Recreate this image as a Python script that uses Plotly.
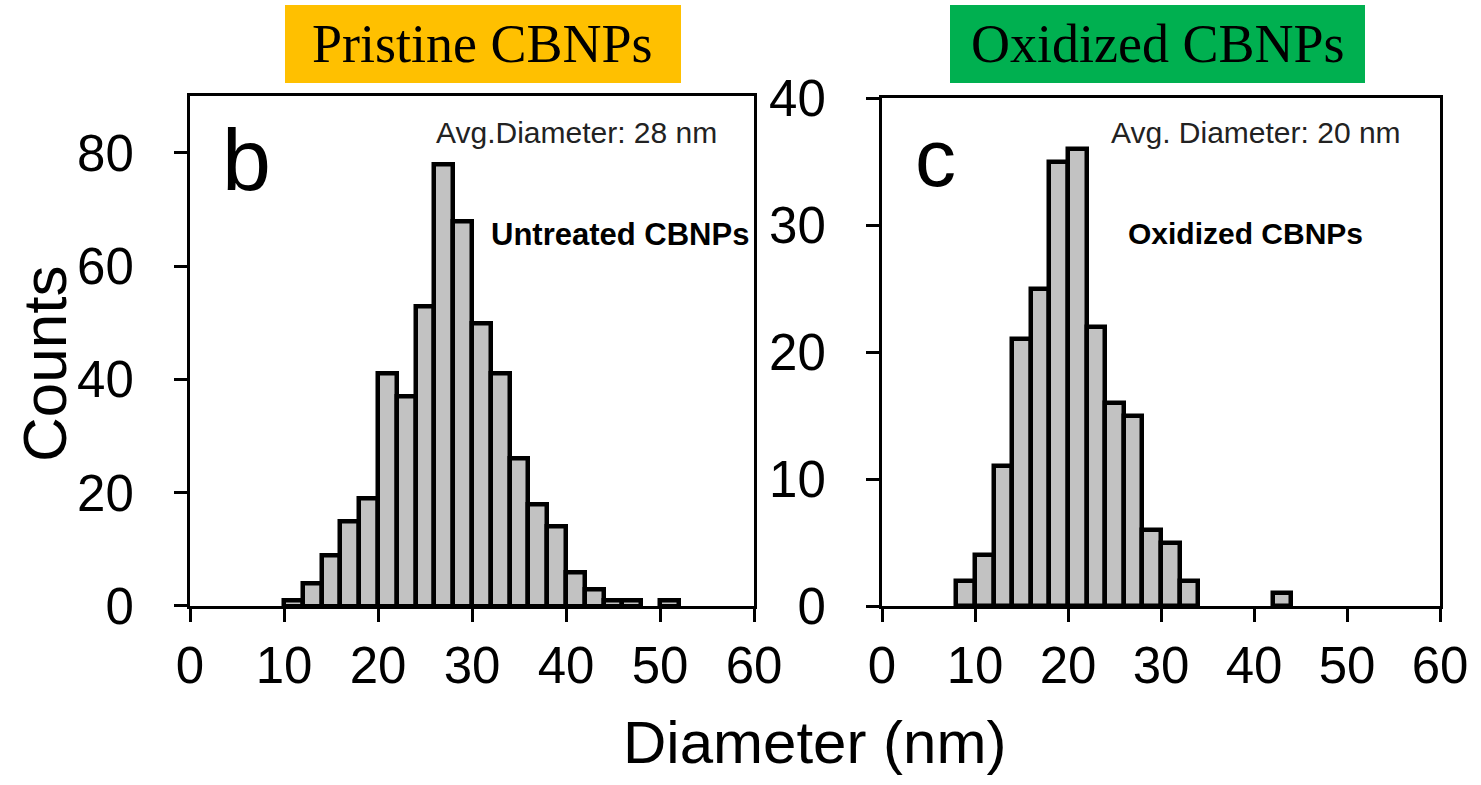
import plotly.graph_objects as go

W, H = 1481, 785

# ---- data ----
pristine_bin_left = [10, 12, 14, 16, 18, 20, 22, 24, 26, 28, 30, 32, 34, 36, 38, 40, 42, 44, 46, 48, 50]
pristine_counts = [1, 4, 9, 15, 19, 41, 37, 53, 78, 68, 50, 41, 26, 18, 14, 6, 3, 1, 1, 0, 1]
oxidized_bin_left = [8, 10, 12, 14, 16, 18, 20, 22, 24, 26, 28, 30, 32, 34, 36, 38, 40, 42]
oxidized_counts = [2, 4, 11, 21, 25, 35, 36, 22, 16, 15, 6, 5, 2, 0, 0, 0, 0, 1]
bin_width = 2
x_ticks = [0, 10, 20, 30, 40, 50, 60]
left_y_ticks = [0, 20, 40, 60, 80]
right_y_ticks = [0, 10, 20, 30, 40]

def fx(px):
    return px / W

def fy(py):
    return 1 - py / H

FONT = "Liberation Sans"
BAR_FILL = "#c2c2c2"

def outline_widths(counts):
    return [4.5 if c > 0 else 0 for c in counts]

fig = go.Figure()
fig.add_trace(go.Bar(
    x=[b + bin_width / 2 for b in pristine_bin_left], y=pristine_counts, width=bin_width,
    marker=dict(color=BAR_FILL, line=dict(color="black", width=outline_widths(pristine_counts))),
    xaxis="x", yaxis="y", showlegend=False))
fig.add_trace(go.Bar(
    x=[b + bin_width / 2 for b in oxidized_bin_left], y=oxidized_counts, width=bin_width,
    marker=dict(color=BAR_FILL, line=dict(color="black", width=outline_widths(oxidized_counts))),
    xaxis="x2", yaxis="y2", showlegend=False))

ax_common = dict(showline=True, linecolor="black", linewidth=3, mirror=True,
                 ticks="outside", tickcolor="black", tickwidth=2.5, ticklen=13,
                 showgrid=False, zeroline=False, automargin=False,
                 tickfont=dict(family=FONT, size=51, color="black"))

y_bottom = 606
fig.update_layout(
    template="none",
    width=W, height=H, margin=dict(l=0, r=0, t=0, b=0, pad=0), autosize=False,
    paper_bgcolor="white", plot_bgcolor="white", bargap=0,
    xaxis=dict(domain=[fx(190), fx(754)], range=[0, 60], tickvals=x_ticks,
               anchor="y", ticklabelstandoff=0, **ax_common),
    yaxis=dict(domain=[fy(y_bottom), fy(y_bottom - 90 * 5.6625)], range=[0, 90],
               tickvals=left_y_ticks, anchor="x", ticklabelstandoff=30, **ax_common),
    xaxis2=dict(domain=[fx(882), fx(1440)], range=[0, 60], tickvals=x_ticks,
                anchor="y2", ticklabelstandoff=0, **ax_common),
    yaxis2=dict(domain=[fy(y_bottom), fy(98)], range=[0, 40],
                tickvals=right_y_ticks, anchor="x2", ticklabelstandoff=30, **ax_common),
)

# title boxes
fig.add_shape(type="rect", xref="paper", yref="paper", x0=fx(285), x1=fx(681), y0=fy(83), y1=fy(5),
              fillcolor="#FFC000", line=dict(width=0), layer="below")
fig.add_shape(type="rect", xref="paper", yref="paper", x0=fx(950), x1=fx(1365), y0=fy(83), y1=fy(5),
              fillcolor="#00B050", line=dict(width=0), layer="below")

def ann(text, x, y, size, family=FONT, color="black", angle=0, bold=False):
    t = f"<b>{text}</b>" if bold else text
    fig.add_annotation(text=t, xref="paper", yref="paper", x=fx(x), y=fy(y),
                       xanchor="center", yanchor="middle", showarrow=False,
                       textangle=angle, font=dict(family=family, size=size, color=color))

ann("Pristine CBNPs", 482, 44, 54, family="Liberation Serif")
ann("Oxidized CBNPs", 1158, 44, 54, family="Liberation Serif")
ann("b", 247, 160, 88)
ann("c", 935, 158, 82)
ann("Avg.Diameter: 28 nm", 576, 133, 30, color="#222222")
ann("Avg. Diameter: 20 nm", 1256, 133, 30, color="#222222")
ann("Untreated CBNPs", 620, 235, 31, bold=True)
ann("Oxidized CBNPs", 1245, 234, 30, bold=True)
ann("Counts", 44, 364, 62, angle=-90)
ann("Diameter (nm)", 814, 742, 60)

fig.write_html("out.html")
